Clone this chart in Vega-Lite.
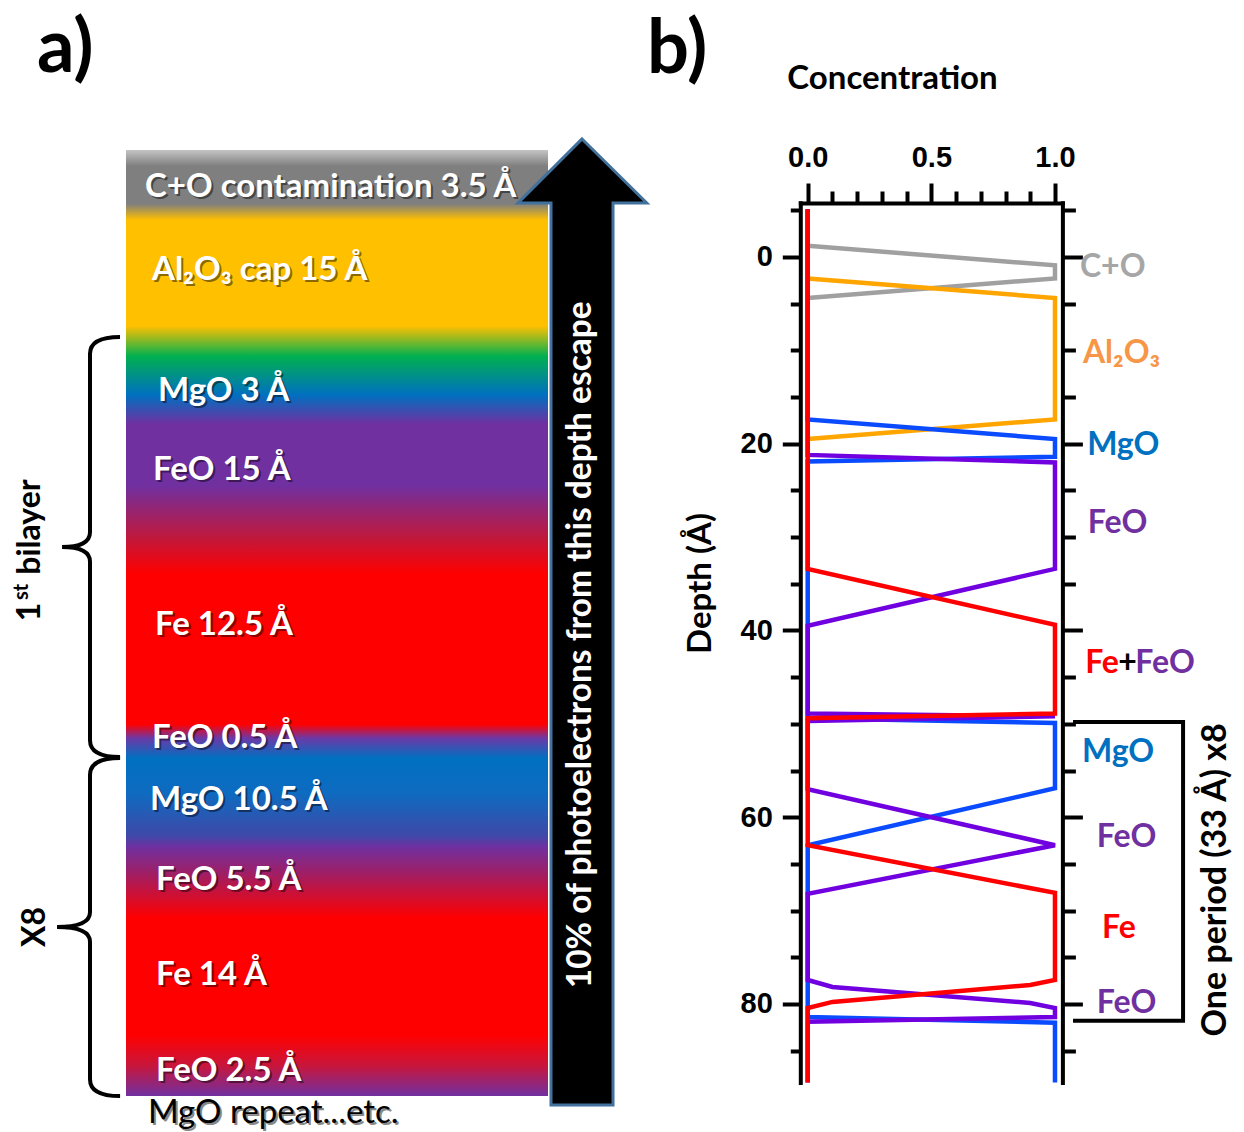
{
  "$schema": "https://vega.github.io/schema/vega-lite/v6.json",
  "width": 1244,
  "height": 1132,
  "autosize": {"type": "none"},
  "padding": 0,
  "background": "white",
  "config": {"view": {"stroke": null}},
  "datasets": {
    "bar": [{"x": 0, "x2": 100, "y": 0, "y2": 100}],
    "arrow": [{"x": 108.06, "y": 49.89}],
    "arrowtext": [{"x": 107.8, "y": 52.3, "t": "10% of photoelectrons from this depth escape"}],
    "layers": [
      {"t": "C+O contamination 3.5 Å", "x": 4.5, "y": 3.9},
      {"t": "Al₂O₃ cap 15 Å", "x": 6.16, "y": 12.68},
      {"t": "MgO 3 Å", "x": 7.58, "y": 25.48},
      {"t": "FeO 15 Å", "x": 6.4, "y": 33.83},
      {"t": "Fe 12.5 Å", "x": 6.87, "y": 50.21},
      {"t": "FeO 0.5 Å", "x": 6.16, "y": 62.16},
      {"t": "MgO 10.5 Å", "x": 5.69, "y": 68.71},
      {"t": "FeO 5.5 Å", "x": 7.11, "y": 77.17},
      {"t": "Fe 14 Å", "x": 7.11, "y": 87.21},
      {"t": "FeO 2.5 Å", "x": 7.11, "y": 97.36}
    ],
    "repeat": [{"t": "MgO repeat...etc.", "x": 5.21, "y": 101.8}],
    "brace1": [{"x": -8.53, "y": 41.97}],
    "brace2": [{"x": -8.53, "y": 82.14}],
    "side": [
      {"t": "bilayer", "x": -22.75, "y": 39.85},
      {"t": "1", "x": -22.75, "y": 48.84},
      {"t": "X8", "x": -21.56, "y": 82.14}
    ],
    "sup": [{"t": "st", "x": -24.64, "y": 46.72}],
    "panel": [
      {"t": "a)", "x": -21.09, "y": -10.55},
      {"t": "b)", "x": 123.46, "y": -10.5}
    ],
    "lines": [
      {"s": "CO", "i": 1, "c": 0, "d": -1.2},
      {"s": "CO", "i": 2, "c": 1, "d": 0.9},
      {"s": "CO", "i": 3, "c": 1, "d": 2.3},
      {"s": "CO", "i": 4, "c": 0, "d": 4.4},
      {"s": "Al", "i": 1, "c": 0, "d": 2.3},
      {"s": "Al", "i": 2, "c": 1, "d": 4.4},
      {"s": "Al", "i": 3, "c": 1, "d": 17.4},
      {"s": "Al", "i": 4, "c": 0, "d": 19.5},
      {"s": "MgO", "i": 1, "c": 0, "d": -5.1},
      {"s": "MgO", "i": 2, "c": 0, "d": 17.4},
      {"s": "MgO", "i": 3, "c": 1, "d": 19.5},
      {"s": "MgO", "i": 4, "c": 1, "d": 21.4},
      {"s": "MgO", "i": 5, "c": 0, "d": 21.9},
      {"s": "MgO", "i": 6, "c": 0, "d": 49.4},
      {"s": "MgO", "i": 7, "c": 1, "d": 49.9},
      {"s": "MgO", "i": 8, "c": 1, "d": 56.9},
      {"s": "MgO", "i": 9, "c": 0, "d": 63.0},
      {"s": "MgO", "i": 10, "c": 0, "d": 81.4},
      {"s": "MgO", "i": 11, "c": 1, "d": 82.0},
      {"s": "MgO", "i": 12, "c": 1, "d": 88.4},
      {"s": "FeO", "i": 1, "c": 0, "d": -5.1},
      {"s": "FeO", "i": 2, "c": 0, "d": 21.2},
      {"s": "FeO", "i": 3, "c": 1, "d": 22.0},
      {"s": "FeO", "i": 4, "c": 1, "d": 33.4},
      {"s": "FeO", "i": 5, "c": 0, "d": 39.5},
      {"s": "FeO", "i": 6, "c": 0, "d": 48.9},
      {"s": "FeO", "i": 7, "c": 1, "d": 49.2},
      {"s": "FeO", "i": 8, "c": 0, "d": 49.7},
      {"s": "FeO", "i": 9, "c": 0, "d": 57.0},
      {"s": "FeO", "i": 10, "c": 1, "d": 63.0},
      {"s": "FeO", "i": 11, "c": 0, "d": 68.2},
      {"s": "FeO", "i": 12, "c": 0, "d": 77.43},
      {"s": "FeO", "i": 13, "c": 0.1, "d": 78.18},
      {"s": "FeO", "i": 14, "c": 0.9, "d": 79.89},
      {"s": "FeO", "i": 15, "c": 1, "d": 80.43},
      {"s": "FeO", "i": 16, "c": 1, "d": 81.4},
      {"s": "FeO", "i": 17, "c": 0, "d": 81.9},
      {"s": "FeO", "i": 18, "c": 0, "d": 88.4},
      {"s": "Fe", "i": 1, "c": 0, "d": -5.1},
      {"s": "Fe", "i": 2, "c": 0, "d": 33.4},
      {"s": "Fe", "i": 3, "c": 1, "d": 39.4},
      {"s": "Fe", "i": 4, "c": 1, "d": 48.9},
      {"s": "Fe", "i": 5, "c": 0, "d": 49.4},
      {"s": "Fe", "i": 6, "c": 0, "d": 63.0},
      {"s": "Fe", "i": 7, "c": 1, "d": 68.1},
      {"s": "Fe", "i": 8, "c": 1, "d": 77.43},
      {"s": "Fe", "i": 9, "c": 0.9, "d": 77.96},
      {"s": "Fe", "i": 10, "c": 0.1, "d": 79.78},
      {"s": "Fe", "i": 11, "c": 0, "d": 80.43},
      {"s": "Fe", "i": 12, "c": 0, "d": 88.4}
    ],
    "blab": [
      {"t": "C+O", "s": "CO", "c": 1.101, "d": 1.07},
      {"t": "Al₂O₃", "s": "Al", "c": 1.113, "d": 10.3},
      {"t": "MgO", "s": "MgO", "c": 1.13, "d": 20.1},
      {"t": "FeO", "s": "FeO", "c": 1.133, "d": 28.5},
      {"t": "Fe", "s": "Fe", "c": 1.122, "d": 43.5},
      {"t": "+", "s": "plus", "c": 1.256, "d": 43.5},
      {"t": "FeO", "s": "FeO", "c": 1.325, "d": 43.5},
      {"t": "MgO", "s": "MgO", "c": 1.109, "d": 53.0},
      {"t": "FeO", "s": "FeO", "c": 1.169, "d": 62.1},
      {"t": "Fe", "s": "Fe", "c": 1.19, "d": 71.9},
      {"t": "FeO", "s": "FeO", "c": 1.169, "d": 79.9}
    ],
    "bracket": [
      {"i": 1, "c": 1.073, "d": 49.8},
      {"i": 2, "c": 1.518, "d": 49.8},
      {"i": 3, "c": 1.518, "d": 81.8},
      {"i": 4, "c": 1.073, "d": 81.8}
    ],
    "period": [{"t": "One period (33 Å) x8", "c": 1.651, "d": 66.7}]
  },
  "resolve": {"scale": {"x": "independent", "y": "independent"}},
  "layer": [
    {
      "encoding": {
        "x": {"field": "x", "type": "quantitative", "scale": {"domain": [0, 100], "range": [126, 548], "nice": false, "zero": false}, "axis": null},
        "y": {"field": "y", "type": "quantitative", "scale": {"domain": [0, 100], "range": [150, 1096], "nice": false, "zero": false}, "axis": null}
      },
      "layer": [
        {
          "data": {"name": "bar"},
          "mark": {
            "type": "rect",
            "fill": {
              "gradient": "linear", "x1": 0, "y1": 0, "x2": 0, "y2": 1,
              "stops": [
                {"offset": 0, "color": "#C4C4C4"},
                {"offset": 0.017, "color": "#7F7F7F"},
                {"offset": 0.057, "color": "#7F7F7F"},
                {"offset": 0.074, "color": "#FFC000"},
                {"offset": 0.186, "color": "#FFC000"},
                {"offset": 0.218, "color": "#00B050"},
                {"offset": 0.259, "color": "#0070C0"},
                {"offset": 0.29, "color": "#7030A0"},
                {"offset": 0.355, "color": "#7030A0"},
                {"offset": 0.41, "color": "#C0183C"},
                {"offset": 0.448, "color": "#FF0000"},
                {"offset": 0.607, "color": "#FF0000"},
                {"offset": 0.622, "color": "#6A3AA8"},
                {"offset": 0.643, "color": "#0070C0"},
                {"offset": 0.68, "color": "#0E6BC0"},
                {"offset": 0.725, "color": "#3F48A8"},
                {"offset": 0.737, "color": "#7030A0"},
                {"offset": 0.765, "color": "#A01E64"},
                {"offset": 0.812, "color": "#FF0000"},
                {"offset": 0.935, "color": "#FF0000"},
                {"offset": 0.968, "color": "#C8163C"},
                {"offset": 1, "color": "#7030A0"}
              ]
            }
          },
          "encoding": {"x2": {"field": "x2"}, "y2": {"field": "y2"}}
        },
        {
          "data": {"name": "arrow"},
          "mark": {"type": "point", "shape": "M0,-1L0.134,-0.8675L0.0642,-0.8675L0.0642,1L-0.0642,1L-0.0642,-0.8675L-0.1325,-0.8675Z", "size": 933156, "filled": true, "fill": "black", "stroke": "#41719C", "strokeWidth": 3, "opacity": 1}
        },
        {
          "data": {"name": "arrowtext"},
          "mark": {"type": "text", "angle": 270, "align": "center", "baseline": "middle", "font": "Lato", "fontWeight": "bold", "fontSize": 33.5, "color": "white"},
          "encoding": {"text": {"field": "t"}}
        },
        {
          "data": {"name": "layers"},
          "mark": {"type": "text", "align": "left", "baseline": "middle", "font": "Lato", "fontWeight": "bold", "fontSize": 33, "color": "black", "opacity": 0.45, "dx": 2, "dy": 2},
          "encoding": {"text": {"field": "t"}}
        },
        {
          "data": {"name": "layers"},
          "mark": {"type": "text", "align": "left", "baseline": "middle", "font": "Lato", "fontWeight": "bold", "fontSize": 33, "color": "white"},
          "encoding": {"text": {"field": "t"}}
        },
        {
          "data": {"name": "repeat"},
          "mark": {"type": "text", "align": "left", "baseline": "middle", "font": "Lato", "fontSize": 33, "color": "#888888", "dx": 2, "dy": 2},
          "encoding": {"text": {"field": "t"}}
        },
        {
          "data": {"name": "repeat"},
          "mark": {"type": "text", "align": "left", "baseline": "middle", "font": "Lato", "fontSize": 33, "color": "black"},
          "encoding": {"text": {"field": "t"}}
        },
        {
          "data": {"name": "brace1"},
          "mark": {"type": "point", "shape": "M0.143,-1Q0,-1,0,-0.92L0,-0.07Q0,0,-0.133,0Q0,0,0,0.07L0,0.92Q0,1,0.143,1", "size": 176400, "filled": false, "color": "black", "strokeWidth": 4, "opacity": 1}
        },
        {
          "data": {"name": "brace2"},
          "mark": {"type": "point", "shape": "M0.178,-1Q0,-1,0,-0.9L0,-0.087Q0,0,-0.195,0Q0,0,0,0.087L0,0.9Q0,1,0.178,1", "size": 114244, "filled": false, "color": "black", "strokeWidth": 4, "opacity": 1}
        },
        {
          "data": {"name": "side"},
          "mark": {"type": "text", "angle": 270, "align": "center", "baseline": "middle", "font": "Lato", "fontWeight": "bold", "fontSize": 32, "color": "black"},
          "encoding": {"text": {"field": "t"}}
        },
        {
          "data": {"name": "sup"},
          "mark": {"type": "text", "angle": 270, "align": "center", "baseline": "middle", "font": "Lato", "fontWeight": "bold", "fontSize": 20, "color": "black"},
          "encoding": {"text": {"field": "t"}}
        },
        {
          "data": {"name": "panel"},
          "mark": {"type": "text", "align": "left", "baseline": "middle", "font": "Lato", "fontWeight": "bold", "fontSize": 74, "color": "black"},
          "encoding": {"text": {"field": "t"}}
        }
      ]
    },
    {
      "data": {"name": "lines"},
      "encoding": {
        "x": {"field": "c", "type": "quantitative", "scale": {"domain": [-0.03, 1.03], "range": [800.3, 1062.4], "nice": false, "zero": false},
          "axis": {"orient": "top", "offset": -203, "values": [0, 0.5, 1], "format": ".1f", "grid": false, "domain": true, "domainColor": "black", "domainWidth": 4, "domainCap": "square", "ticks": true, "tickSize": 20, "tickWidth": 4, "tickColor": "black", "labelFont": "Liberation Sans", "labelFontWeight": "bold", "labelFontSize": 29, "labelColor": "black", "labelPadding": 11, "labelFlush": false, "labelOverlap": false, "labelBound": false,
            "title": "Concentration", "titleFont": "Lato", "titleFontWeight": "bold", "titleFontSize": 33, "titleColor": "black", "titleX": 892, "titleY": -125, "titleAlign": "center", "titleBaseline": "middle", "titleAngle": 0}},
        "y": {"field": "d", "type": "quantitative", "scale": {"domain": [-5.8, 88.4], "range": [202.8, 1082.4], "nice": false, "zero": false},
          "axis": {"orient": "left", "offset": -800.3, "values": [0, 20, 40, 60, 80], "grid": false, "domain": true, "domainColor": "black", "domainWidth": 4, "domainCap": "square", "ticks": true, "tickSize": 18, "tickWidth": 4, "tickColor": "black", "labelFont": "Liberation Sans", "labelFontWeight": "bold", "labelFontSize": 29, "labelColor": "black", "labelPadding": 10, "labelFlush": false, "labelOverlap": false, "labelBound": false,
            "title": "Depth (Å)", "titleFont": "Lato", "titleFontWeight": "bold", "titleFontSize": 33, "titleColor": "black", "titleX": -100.3, "titleY": 583, "titleAlign": "center", "titleBaseline": "middle", "titleAngle": 270}},
        "order": {"field": "i", "type": "quantitative"}
      },
      "layer": [
        {"transform": [{"filter": "datum.s === 'CO'"}], "mark": {"type": "line", "color": "#A0A0A0", "strokeWidth": 4.5}},
        {"transform": [{"filter": "datum.s === 'Al'"}], "mark": {"type": "line", "color": "#FFA500", "strokeWidth": 4.5}},
        {"transform": [{"filter": "datum.s === 'MgO'"}], "mark": {"type": "line", "color": "#0A4BFF", "strokeWidth": 4.5}},
        {"transform": [{"filter": "datum.s === 'FeO'"}], "mark": {"type": "line", "color": "#7000E0", "strokeWidth": 4.5}},
        {"transform": [{"filter": "datum.s === 'Fe'"}], "mark": {"type": "line", "color": "#FF0000", "strokeWidth": 4.5}}
      ]
    },
    {
      "data": {"name": "bracket"},
      "mark": {"type": "line", "color": "black", "strokeWidth": 4, "strokeJoin": "miter"},
      "encoding": {
        "x": {"field": "c", "type": "quantitative", "scale": {"domain": [-0.03, 1.03], "range": [800.3, 1062.4], "nice": false, "zero": false},
          "axis": {"orient": "top", "offset": -203, "values": [0.1, 0.2, 0.3, 0.4, 0.6, 0.7, 0.8, 0.9], "grid": false, "domain": false, "labels": false, "ticks": true, "tickSize": 12, "tickWidth": 4, "tickColor": "black", "title": null}},
        "y": {"field": "d", "type": "quantitative", "scale": {"domain": [-5.8, 88.4], "range": [202.8, 1082.4], "nice": false, "zero": false},
          "axis": {"orient": "left", "offset": -800.3, "values": [-5, 5, 10, 15, 25, 30, 35, 45, 50, 55, 65, 70, 75, 85], "grid": false, "domain": false, "labels": false, "ticks": true, "tickSize": 10, "tickWidth": 4, "tickColor": "black", "title": null}},
        "order": {"field": "i", "type": "quantitative"}
      }
    },
    {
      "data": {"name": "blab"},
      "mark": {"type": "text", "align": "left", "baseline": "middle", "font": "Lato", "fontWeight": "bold", "fontSize": 32},
      "encoding": {
        "x": {"field": "c", "type": "quantitative", "scale": {"domain": [-0.03, 1.03], "range": [800.3, 1062.4], "nice": false, "zero": false}, "axis": null},
        "y": {"field": "d", "type": "quantitative", "scale": {"domain": [-5.8, 88.4], "range": [202.8, 1082.4], "nice": false, "zero": false},
          "axis": {"orient": "right", "offset": -181.6, "values": [0, 20, 40, 60, 80], "grid": false, "domain": true, "domainColor": "black", "domainWidth": 4, "domainCap": "square", "labels": false, "ticks": true, "tickSize": 20, "tickWidth": 4, "tickColor": "black", "title": null}},
        "color": {"field": "s", "type": "nominal", "scale": {"domain": ["CO", "Al", "MgO", "FeO", "Fe", "plus"], "range": ["#A6A6A6", "#F79646", "#0070C0", "#7030A0", "#FF0000", "#000000"]}, "legend": null},
        "text": {"field": "t"}
      }
    },
    {
      "data": {"name": "period"},
      "mark": {"type": "text", "angle": 270, "align": "center", "baseline": "middle", "font": "Lato", "fontWeight": "bold", "fontSize": 34, "color": "black"},
      "encoding": {
        "x": {"field": "c", "type": "quantitative", "scale": {"domain": [-0.03, 1.03], "range": [800.3, 1062.4], "nice": false, "zero": false}, "axis": null},
        "y": {"field": "d", "type": "quantitative", "scale": {"domain": [-5.8, 88.4], "range": [202.8, 1082.4], "nice": false, "zero": false},
          "axis": {"orient": "right", "offset": -181.6, "values": [-5, 5, 10, 15, 25, 30, 35, 45, 50, 55, 65, 70, 75, 85], "grid": false, "domain": false, "labels": false, "ticks": true, "tickSize": 13, "tickWidth": 4, "tickColor": "black", "title": null}},
        "text": {"field": "t"}
      }
    }
  ]
}
